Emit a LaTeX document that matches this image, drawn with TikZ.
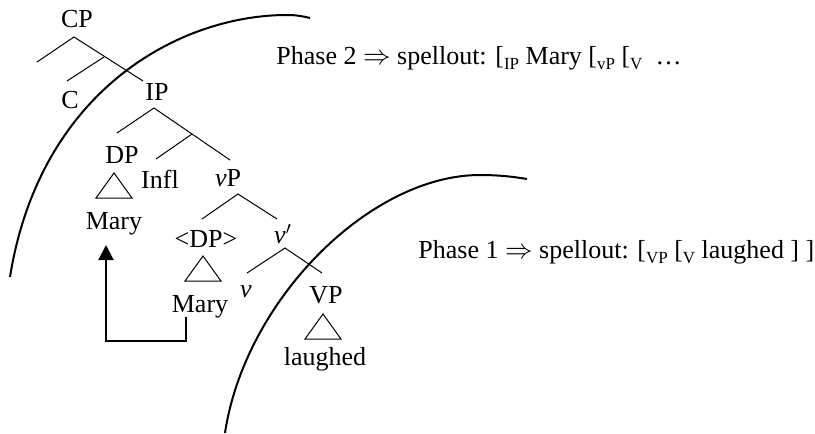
\documentclass[tikz,border=0pt]{standalone}
\usepackage{fontspec}
\setmainfont{Liberation Serif}
\usetikzlibrary{arrows.meta}
\tikzset{
  branch line/.style={line width=0.5pt, black},
  phase curve/.style={line width=1pt, black},
  move arrow/.style={line width=1pt, black, -{Triangle[length=7.5pt, width=7.5pt]}},
  tree label/.style={anchor=base, inner sep=0pt, font=\fontsize{13}{15}\selectfont},
  spell label/.style={anchor=base west, inner sep=0pt, font=\fontsize{13}{15}\selectfont},
}
\newcommand{\phsub}[1]{\raisebox{-0.5ex}{\fontsize{8.5}{8.5}\selectfont #1}}
\newcommand{\phimp}{\scalebox{1.15}{$\Rightarrow$}}
\newcommand{\drawRoof}[1]{
  \draw[branch line] (#1) -- ++(-18,25) -- ++(36,0) -- cycle;
}

\begin{document}
\begin{tikzpicture}[x=0.5pt, y=-0.5pt]
  \useasboundingbox (0,0) rectangle (815,434);
  % labels of the tree
  \node[tree label] (cp) at (77,27) {CP};
  \node[tree label] (c) at (70,108) {C};
  \node[tree label] (ip) at (157,100) {IP};
  \node[tree label] (dp) at (122,163) {DP};
  \node[tree label] (infl) at (160,188) {Infl};
  \node[tree label] (vp) at (228,186) {\textit{v}P};
  \node[tree label] (mary1) at (114,229) {Mary};
  \node[tree label] (dpcopy) at (206,247) {<DP>};
  \node[tree label] (vbar) at (283,243) {\textit{v}$'$};
  \node[tree label] (vhead) at (246,297) {\textit{v}};
  \node[tree label] (mary2) at (200,312) {Mary};
  \node[tree label] (vpl) at (326,303) {VP};
  \node[tree label] (laughed) at (325,365) {laughed};
  \node[spell label] (phase2) at (276,64) {Phase 2 \phimp{} spellout: [\phsub{IP} Mary [\phsub{vP} [\phsub{V}\ \ …};
  \node[spell label] (phase1) at (418,258) {Phase 1 \phimp{} spellout: [\phsub{VP} [\phsub{V} laughed ] ]};

  % branch points
  \coordinate (cpTop) at (74,37);
  \coordinate (cpLeft) at (37,62);
  \coordinate (cpRight) at (143,81);
  \coordinate (cbarTop) at (104,57);
  \coordinate (cbarLeft) at (67,81);
  \coordinate (ipTop) at (154,108);
  \coordinate (ipLeft) at (117,133);
  \coordinate (ipRight) at (230,160);
  \coordinate (ibarTop) at (192,134);
  \coordinate (ibarLeft) at (156,159);
  \coordinate (vpTop) at (238,194);
  \coordinate (vpLeft) at (202,219);
  \coordinate (vpRight) at (277,219);
  \coordinate (vbarTop) at (285,248);
  \coordinate (vbarLeft) at (247,273);
  \coordinate (vbarRight) at (322,273);

  \draw[branch line] (cpLeft) -- (cpTop) -- (cpRight);
  \draw[branch line] (cbarTop) -- (cbarLeft);
  \draw[branch line] (ipLeft) -- (ipTop) -- (ipRight);
  \draw[branch line] (ibarTop) -- (ibarLeft);
  \draw[branch line] (vpLeft) -- (vpTop) -- (vpRight);
  \draw[branch line] (vbarLeft) -- (vbarTop) -- (vbarRight);

  \drawRoof{114,173}
  \drawRoof{203,256}
  \drawRoof{323,314}

  % phase boundaries
  \draw[phase curve] (10,277) .. controls (40,90) and (180,15) .. (287,15)
    .. controls (297,15) and (304,16.5) .. (310,18);
  \draw[phase curve] (225,433) .. controls (245,300) and (370,175) .. (480,175)
    .. controls (500,175) and (515,177) .. (527,179);

  % movement of the subject
  \coordinate (moveStart) at (186,317);
  \coordinate (moveEnd) at (106,245);
  \draw[move arrow] (moveStart) -- ++(0,24) -| (moveEnd);
\end{tikzpicture}
\end{document}
